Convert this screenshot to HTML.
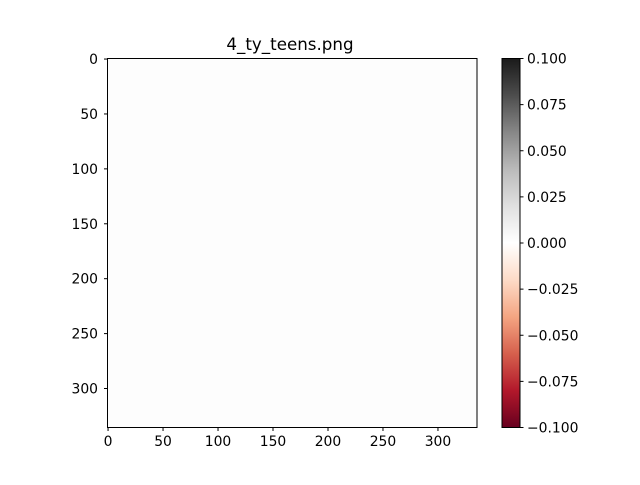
<!DOCTYPE html>
<html><head><meta charset="utf-8"><style>
body{margin:0;background:#fff}
svg{font-family:"DejaVu Sans","Liberation Sans",sans-serif}
</style></head><body>
<svg id="c" width="640" height="480" xmlns="http://www.w3.org/2000/svg">
<defs><linearGradient id="g" x1="0" y1="1" x2="0" y2="0">
<stop offset="0" stop-color="#67001f"/><stop offset="0.1" stop-color="#b2182b"/><stop offset="0.2" stop-color="#d6604d"/><stop offset="0.3" stop-color="#f4a582"/><stop offset="0.4" stop-color="#fddbc7"/><stop offset="0.5" stop-color="#ffffff"/><stop offset="0.6" stop-color="#e0e0e0"/><stop offset="0.7" stop-color="#bababa"/><stop offset="0.8" stop-color="#878787"/><stop offset="0.9" stop-color="#4d4d4d"/><stop offset="1" stop-color="#1a1a1a"/>
</linearGradient></defs>
<text x="290" y="50" font-size="16.7" text-anchor="middle">4_ty_teens.png</text>
<rect x="107.5" y="58.5" width="369.5" height="369" fill="#fdfdfd" stroke="#000" stroke-width="1"/>
<rect x="502" y="58.5" width="18" height="369" fill="url(#g)" stroke="#000" stroke-width="1"/>
<g id="ax"></g>
</svg>
<script>
const xTicks=[0,50,100,150,200,250,300];
const yTicks=[0,50,100,150,200,250,300];
const cbTicks=[0.1,0.075,0.05,0.025,0,-0.025,-0.05,-0.075,-0.1];
const cbLabels=["0.100","0.075","0.050","0.025","0.000","\u22120.025","\u22120.050","\u22120.075","\u22120.100"];
const N=336, x0=107.5, y0=58.5, W=369.5, H=369;
const sx=v=>x0+(v+0.5)*W/N, sy=v=>y0+(v+0.5)*H/N;
const cy=v=>58.5+(0.1-v)/0.2*369;
const g=document.getElementById('ax'), ns="http://www.w3.org/2000/svg";
function mk(t,a,txt){const e=document.createElementNS(ns,t);for(const k in a)e.setAttribute(k,a[k]);if(txt!==undefined)e.textContent=txt;g.appendChild(e);return e;}
xTicks.forEach(v=>{const x=sx(v);
const l=mk('line',{x1:x,x2:x,y1:427.5,y2:431,stroke:'#000'});


const t=mk('text',{x:x,y:446,'font-size':13.9,'text-anchor':'middle'},v);

});
yTicks.forEach(v=>{const y=sy(v);
const l=mk('line',{x1:104,x2:107.5,y1:y,y2:y,stroke:'#000'});


const t=mk('text',{x:98,y:y+5,'font-size':13.9,'text-anchor':'end'},v);

});
cbTicks.forEach((v,i)=>{const y=cy(v);
const l=mk('line',{x1:520,x2:523.5,y1:y,y2:y,stroke:'#000'});


const t=mk('text',{x:527,y:y+5,'font-size':13.9},cbLabels[i]);

});
</script>
</body></html>
